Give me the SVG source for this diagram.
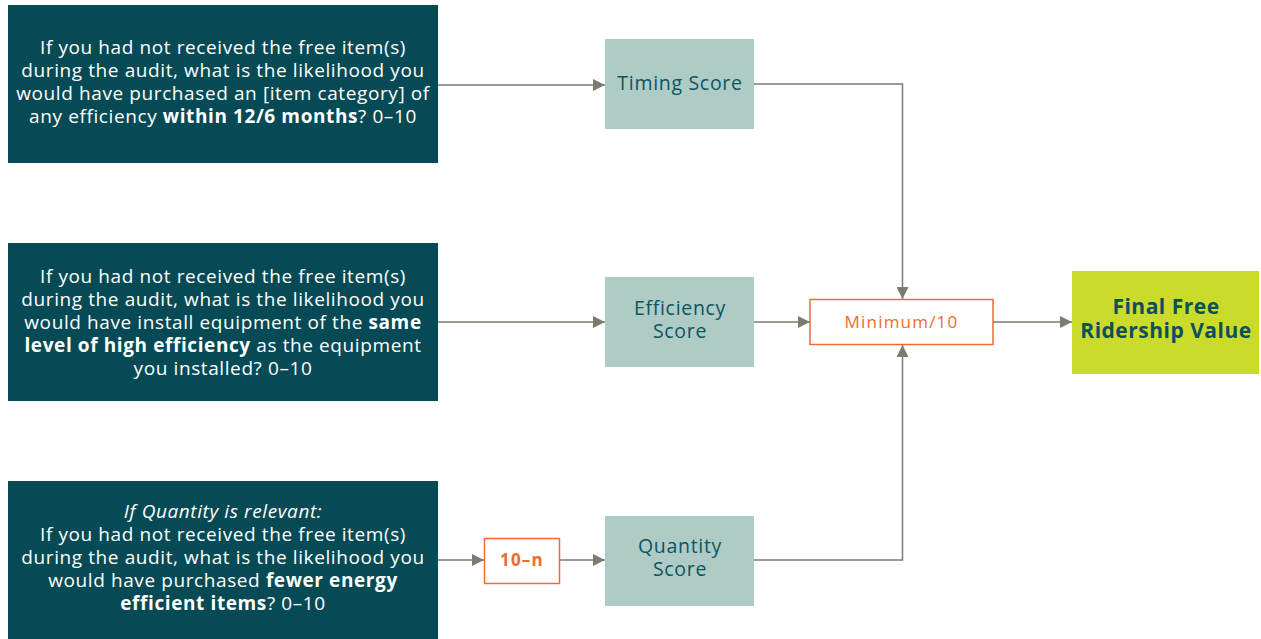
<svg xmlns="http://www.w3.org/2000/svg" width="1261" height="639" viewBox="0 0 1261 639">
<defs>
<marker id="ah" viewBox="0 0 10 10" refX="10" refY="5" markerWidth="12" markerHeight="12" markerUnits="userSpaceOnUse" orient="auto"><path d="M0,0 L10,5 L0,10 z" fill="#7b7b70"/></marker>
<style>
.q{fill:#064a55}
.qt{font-family:"Open Sans",Lato,sans-serif;font-size:19px;letter-spacing:0.6px;fill:#ffffff;text-anchor:middle}
.s{fill:#afcbc6}
.st{font-family:"Open Sans",Lato,sans-serif;font-size:19.5px;letter-spacing:0.7px;fill:#0d5560;text-anchor:middle}
.o{fill:#ffffff;stroke:#f06a35;stroke-width:1.5}
.ot{font-family:"Open Sans",Lato,sans-serif;font-size:17px;letter-spacing:1.2px;fill:#f06a35;text-anchor:middle}
.c{fill:none;stroke:#7b7b70;stroke-width:1.5}
</style>
</defs>
<rect width="1261" height="639" fill="#ffffff"/>
<g id="q1"><rect class="q" x="8" y="5" width="430" height="158"/>
<text class="qt"><tspan x="223" y="54">If you had not received the free item(s)</tspan><tspan x="223" y="77">during the audit, what is the likelihood you</tspan><tspan x="223" y="100">would have purchased an [item category] of</tspan><tspan x="223" y="123">any efficiency <tspan font-weight="bold">within 12/6 months</tspan>? 0–10</tspan></text></g>
<g id="q2"><rect class="q" x="8" y="243" width="430" height="158"/>
<text class="qt"><tspan x="223" y="283">If you had not received the free item(s)</tspan><tspan x="223" y="306">during the audit, what is the likelihood you</tspan><tspan x="223" y="329">would have install equipment of the <tspan font-weight="bold">same</tspan></tspan><tspan x="223" y="352"><tspan font-weight="bold">level of high efficiency</tspan> as the equipment</tspan><tspan x="223" y="375">you installed? 0–10</tspan></text></g>
<g id="q3"><rect class="q" x="8" y="481" width="430" height="160"/>
<text class="qt"><tspan x="223" y="518" font-style="italic">If Quantity is relevant:</tspan><tspan x="223" y="541">If you had not received the free item(s)</tspan><tspan x="223" y="564">during the audit, what is the likelihood you</tspan><tspan x="223" y="587">would have purchased <tspan font-weight="bold">fewer energy</tspan></tspan><tspan x="223" y="610"><tspan font-weight="bold">efficient items</tspan>? 0–10</tspan></text></g>
<g id="timing"><rect class="s" x="605" y="39" width="149" height="90"/><text class="st" x="680" y="90">Timing Score</text></g>
<g id="efficiency"><rect class="s" x="605" y="277" width="149" height="90"/><text class="st"><tspan x="680" y="315">Efficiency</tspan><tspan x="680" y="338">Score</tspan></text></g>
<g id="quantity"><rect class="s" x="605" y="516" width="149" height="90"/><text class="st"><tspan x="680" y="553">Quantity</tspan><tspan x="680" y="576">Score</tspan></text></g>
<g id="minimum"><rect class="o" x="810" y="299.5" width="183" height="45"/><text class="ot" x="901.5" y="328">Minimum/10</text></g>
<g id="tenminusn"><rect class="o" x="484.5" y="538.5" width="75" height="45"/><text class="ot" x="522" y="566" font-weight="bold" letter-spacing="0.5">10–n</text></g>
<g id="final"><rect x="1072" y="271" width="187" height="103" fill="#cbdb2a"/><text font-family="'Open Sans',Lato,sans-serif" font-size="21" font-weight="bold" letter-spacing="0.5" fill="#0d4f5a" text-anchor="middle"><tspan x="1166" y="314">Final Free</tspan><tspan x="1166" y="338">Ridership Value</tspan></text></g>
<g id="connectors">
<path class="c" d="M438,85 H605" marker-end="url(#ah)"/>
<path class="c" d="M754,84 H902.5 V299" marker-end="url(#ah)"/>
<path class="c" d="M438,322 H605" marker-end="url(#ah)"/>
<path class="c" d="M754,322 H810" marker-end="url(#ah)"/>
<path class="c" d="M993,322 H1072" marker-end="url(#ah)"/>
<path class="c" d="M438,560 H484" marker-end="url(#ah)"/>
<path class="c" d="M559,560 H605" marker-end="url(#ah)"/>
<path class="c" d="M754,560 H902.5 V345" marker-end="url(#ah)"/>
</g>
</svg>
